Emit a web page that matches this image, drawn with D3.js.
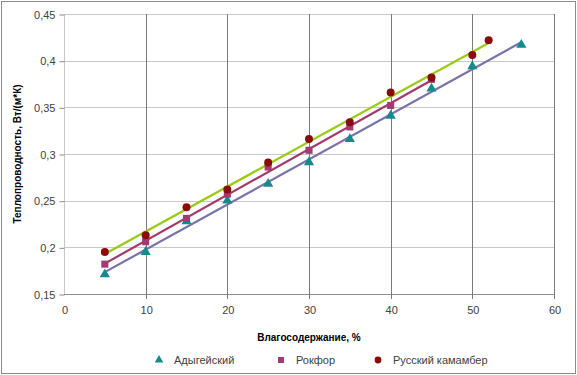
<!DOCTYPE html>
<html>
<head>
<meta charset="utf-8">
<script src="https://cdn.jsdelivr.net/npm/d3@7"></script>
<style>
  body { margin: 0; background: #fff; }
  svg { font-family: "Liberation Sans", "DejaVu Sans", sans-serif; }
</style>
</head>
<body>
<div id="chart"></div>
<script>
// moisture content, %
const xAdyg = [5, 10, 15, 20, 25, 30, 35, 40, 45, 50, 56];
const yAdyg = [0.171, 0.195, 0.228, 0.25, 0.268, 0.291, 0.316, 0.341, 0.37, 0.394, 0.417];
const xRokf = [5, 10, 15, 20, 25, 30, 35, 40, 45];
const yRokf = [0.182, 0.206, 0.231, 0.257, 0.286, 0.304, 0.329, 0.352, 0.38];
const xKam = [5, 10, 15, 20, 25, 30, 35, 40, 45, 50, 52];
const yKam = [0.195, 0.213, 0.243, 0.262, 0.291, 0.316, 0.334, 0.366, 0.382, 0.406, 0.422];
const xTicks = [0, 10, 20, 30, 40, 50, 60];
const yTicks = [0.15, 0.2, 0.25, 0.3, 0.35, 0.4, 0.45];

const series = [
  { name: "Адыгейский", xs: xAdyg, ys: yAdyg, marker: "triangle", color: "#138a8c", trend: "#7673ab" },
  { name: "Рокфор", xs: xRokf, ys: yRokf, marker: "square", color: "#a23b72", trend: "#a33a6c" },
  { name: "Русский камамбер", xs: xKam, ys: yKam, marker: "circle", color: "#8b0a0a", trend: "#9acb12" }
];

const w = 577, h = 375;
const svg = d3.select("#chart").append("svg").attr("width", w).attr("height", h);

// outer frame
svg.append("rect").attr("x", 1.5).attr("y", 1.5).attr("width", w - 3).attr("height", h - 3)
  .attr("fill", "#fff").attr("stroke", "#8c8c8c").attr("stroke-width", 1);

const x = d3.scaleLinear().domain([0, 60]).range([64, 554]);
const y = d3.scaleLinear().domain([0.15, 0.45]).range([294, 14]);

const fmt = d => d3.format("")(+d.toFixed(2)).replace(".", ",");

// horizontal grid
svg.append("g").selectAll("line").data(yTicks).join("line")
  .attr("x1", x(0)).attr("x2", x(60))
  .attr("y1", d => Math.round(y(d)) + 0.5).attr("y2", d => Math.round(y(d)) + 0.5)
  .attr("stroke", d => d === 0.15 ? "#8c8c8c" : "#c8c8c8");

// vertical grid
svg.append("g").selectAll("line").data(xTicks.slice(1)).join("line")
  .attr("x1", d => Math.round(x(d)) + 0.5).attr("x2", d => Math.round(x(d)) + 0.5)
  .attr("y1", y(0.45)).attr("y2", y(0.15) + 5)
  .attr("stroke", "#7a7a7a");

// left axis line
svg.append("line").attr("x1", x(0) + 0.5).attr("x2", x(0) + 0.5)
  .attr("y1", y(0.45)).attr("y2", y(0.15))
  .attr("stroke", "#c8c8c8");

// y tick marks + labels
const yAxis = d3.axisLeft(y).tickValues(yTicks).tickSize(5).tickFormat(fmt);
const gy = svg.append("g").attr("transform", `translate(${x(0) + 0.5},0.5)`).call(yAxis);
gy.select(".domain").remove();
gy.selectAll(".tick line").attr("stroke", "#8c8c8c");
gy.selectAll(".tick text").attr("font-size", 11).attr("fill", "#404040").attr("x", -9);

const xAxis = d3.axisBottom(x).tickValues(xTicks).tickSize(0).tickFormat(d => d);
const gx = svg.append("g").attr("transform", `translate(0.5,${y(0.15)})`).call(xAxis);
gx.select(".domain").remove();
gx.selectAll(".tick text").attr("font-size", 11).attr("fill", "#404040").attr("dy", "1.55em");

// axis titles
svg.append("text").attr("x", (x(0) + x(60)) / 2).attr("y", 341)
  .attr("text-anchor", "middle").attr("font-size", 10).attr("font-weight", "bold")
  .attr("fill", "#000").text("Влагосодержание, %");
svg.append("text").attr("transform", `translate(21,${(y(0.15) + y(0.45)) / 2}) rotate(-90)`)
  .attr("text-anchor", "middle").attr("font-size", 10).attr("font-weight", "bold")
  .attr("fill", "#000").text("Теплопроводность, Вт/(м*К)");

// linear trend lines (least squares)
function fit(xs, ys) {
  const mx = d3.mean(xs), my = d3.mean(ys);
  const b = d3.sum(xs, (v, i) => (v - mx) * (ys[i] - my)) / d3.sum(xs, v => (v - mx) ** 2);
  return v => my + b * (v - mx);
}
series.forEach(s => {
  const f = fit(s.xs, s.ys);
  const x0 = d3.min(s.xs), x1 = d3.max(s.xs);
  svg.append("line")
    .attr("x1", x(x0)).attr("y1", y(f(x0)))
    .attr("x2", x(x1)).attr("y2", y(f(x1)))
    .attr("stroke", s.trend).attr("stroke-width", 2.2);
});

const symbols = { triangle: d3.symbolTriangle, square: d3.symbolSquare, circle: d3.symbolCircle };
const sizes = { triangle: 45, square: 50, circle: 50 };

series.forEach(s => {
  svg.append("g").selectAll("path").data(s.xs.map((v, i) => [v, s.ys[i]])).join("path")
    .attr("d", d3.symbol().type(symbols[s.marker]).size(sizes[s.marker]))
    .attr("transform", d => `translate(${x(d[0])},${y(d[1])})`)
    .attr("fill", s.color);
});

// legend
const legX = [159, 281, 378];
const leg = svg.append("g").selectAll("g").data(series).join("g")
  .attr("transform", (d, i) => `translate(${legX[i]},360)`);
leg.append("path")
  .attr("d", d => d3.symbol().type(symbols[d.marker]).size(d.marker === "triangle" ? 32 : 36)())
  .attr("fill", d => d.color);
leg.append("text").attr("x", 15).attr("dy", "0.35em")
  .attr("font-size", 11).attr("fill", "#404040").text(d => d.name);
</script>
</body>
</html>
